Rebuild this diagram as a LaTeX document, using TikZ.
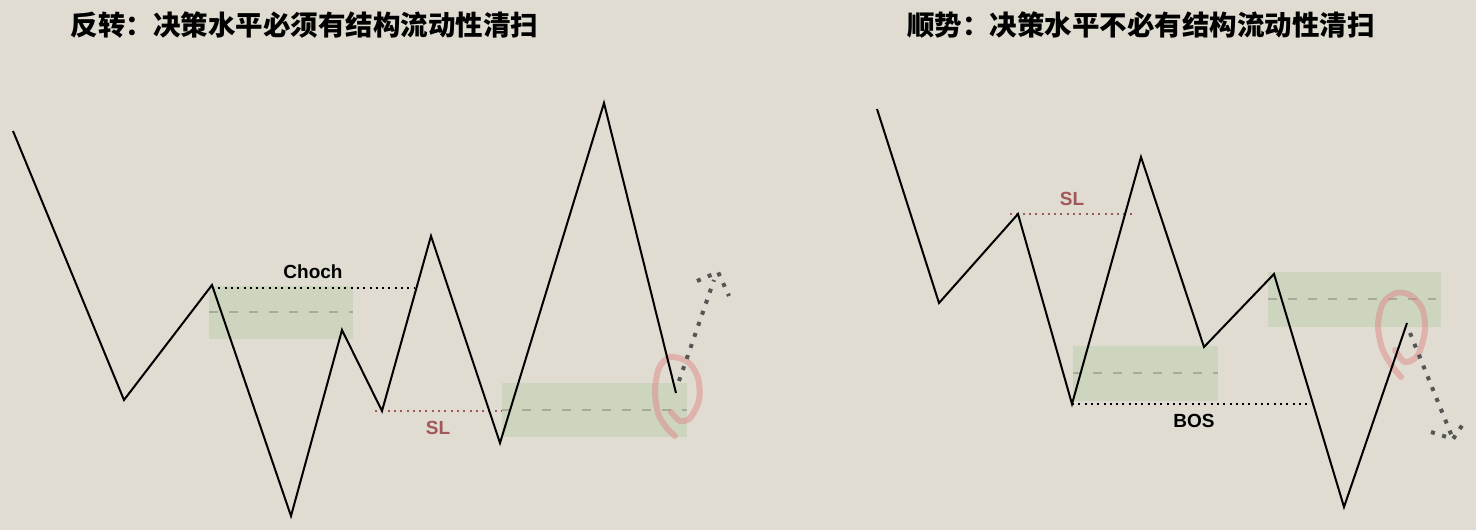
\documentclass[tikz,border=0pt]{standalone}
\usepackage{fontspec}
\newfontfamily\cjk{Noto Sans CJK SC}
\setmainfont{Liberation Sans}
\definecolor{bg}{RGB}{224,220,209}
\definecolor{zone}{RGB}{205,213,190}
\definecolor{midline}{RGB}{168,170,158}
\definecolor{slred}{RGB}{160,88,88}
\definecolor{proj}{RGB}{85,85,85}
\definecolor{loopc}{RGB}{222,128,128}
\tikzset{
  price/.style={line width=2pt, line join=miter, black},
  zonebox/.style={fill=zone, draw=none},
  midd/.style={line width=2pt, midline, dash pattern=on 9pt off 11pt},
  levelblack/.style={line width=2pt, black, dash pattern=on 2pt off 4.3pt},
  levelred/.style={line width=2pt, slred, dash pattern=on 2pt off 4.3pt},
  projpath/.style={line width=4pt, proj, dash pattern=on 4pt off 7.7pt},
  loopmark/.style={line width=6pt, loopc, opacity=0.45, line cap=round, line join=round},
  lab/.style={font=\fontsize{19}{19}\selectfont\bfseries, inner sep=0pt},
  ttl/.style={font=\cjk\fontsize{27.5}{28}\selectfont\bfseries, inner sep=0pt}
}
\begin{document}
\begin{tikzpicture}[x=1pt,y=-1pt]
\fill[bg] (0,0) rectangle (1476,530);
\useasboundingbox (0,0) rectangle (1476,530);

% titles
\node[ttl] (t1) at (304.5,25) {反转：决策水平必须有结构流动性清扫};
\node[ttl] (t2) at (1141,25) {顺势：决策水平不必有结构流动性清扫};

% ---------- left chart ----------
\fill[zonebox] (209,286) rectangle (353,339);
\fill[zonebox] (502,383) rectangle (687,437);
\draw[midd] (209,312) -- (353,312);
\draw[midd] (502,410) -- (687,410);

\coordinate (a0) at (13,131);
\coordinate (a1) at (124,400);
\coordinate (a2) at (212,285);
\coordinate (a3) at (291,516);
\coordinate (a4) at (342,330);
\coordinate (a5) at (382,411);
\coordinate (a6) at (431,236);
\coordinate (a7) at (500,443);
\coordinate (a8) at (604,103);
\coordinate (a9) at (676,393);
\coordinate (chE) at (415,288);
\coordinate (slS) at (375,411);
\coordinate (slE) at (502,411);

\draw[levelblack] (a2 |- chE) -- (chE);
\draw[levelred] (slS) -- (slE);
\node[lab] (choch) at (313,272) {Choch};
\node[lab, text=slred] (sl1) at (438,428) {SL};

\draw[loopmark] plot[smooth] coordinates {(671,412) (680,421) (690,418) (699,400) (698,378) (688,362) (670,357) (659,368) (655,390) (658,413) (666,427) (675,436)};

\draw[price] (a0) -- (a1) -- (a2) -- (a3) -- (a4) -- (a5) -- (a6) -- (a7) -- (a8) -- (a9);

\coordinate (p1) at (714,280);
\coordinate (p2) at (697,281);
\coordinate (p3) at (718,272);
\coordinate (p4) at (729,296);
\draw[projpath] (679,381) -- (p1);
\draw[projpath] (p2) -- (p3) -- (p4);

% ---------- right chart ----------
\fill[zonebox] (1073,346) rectangle (1218,401);
\fill[zonebox] (1268,272) rectangle (1441,327);
\draw[midd] (1073,373) -- (1218,373);
\draw[midd] (1268,299) -- (1436,299);

\coordinate (b0) at (877,109);
\coordinate (b1) at (939,303);
\coordinate (b2) at (1018,214);
\coordinate (b3) at (1072,404);
\coordinate (b4) at (1141,157);
\coordinate (b5) at (1204,347);
\coordinate (b6) at (1274,274);
\coordinate (b7) at (1344,507);
\coordinate (b8) at (1407,323);
\coordinate (bosE) at (1310,404);
\coordinate (sl2S) at (1010,214);
\coordinate (sl2E) at (1132,214);

\draw[levelblack] (b3) -- (bosE);
\draw[levelred] (sl2S) -- (sl2E);
\node[lab] (bos) at (1194,421) {BOS};
\node[lab, text=slred] (sl2) at (1072,199) {SL};

\draw[loopmark] plot[smooth] coordinates {(1395,350) (1405,362) (1418,355) (1425,330) (1422,308) (1410,295) (1396,293) (1383,303) (1378,325) (1382,348) (1392,366) (1401,377)};

\draw[price] (b0) -- (b1) -- (b2) -- (b3) -- (b4) -- (b5) -- (b6) -- (b7) -- (b8);

\coordinate (q1) at (1453,439);
\coordinate (q2) at (1431,432);
\coordinate (q3) at (1465,421);
\draw[projpath] (1410,333) -- (q1);
\draw[projpath] (q2) -- (q1) -- (q3);
\end{tikzpicture}
\end{document}
